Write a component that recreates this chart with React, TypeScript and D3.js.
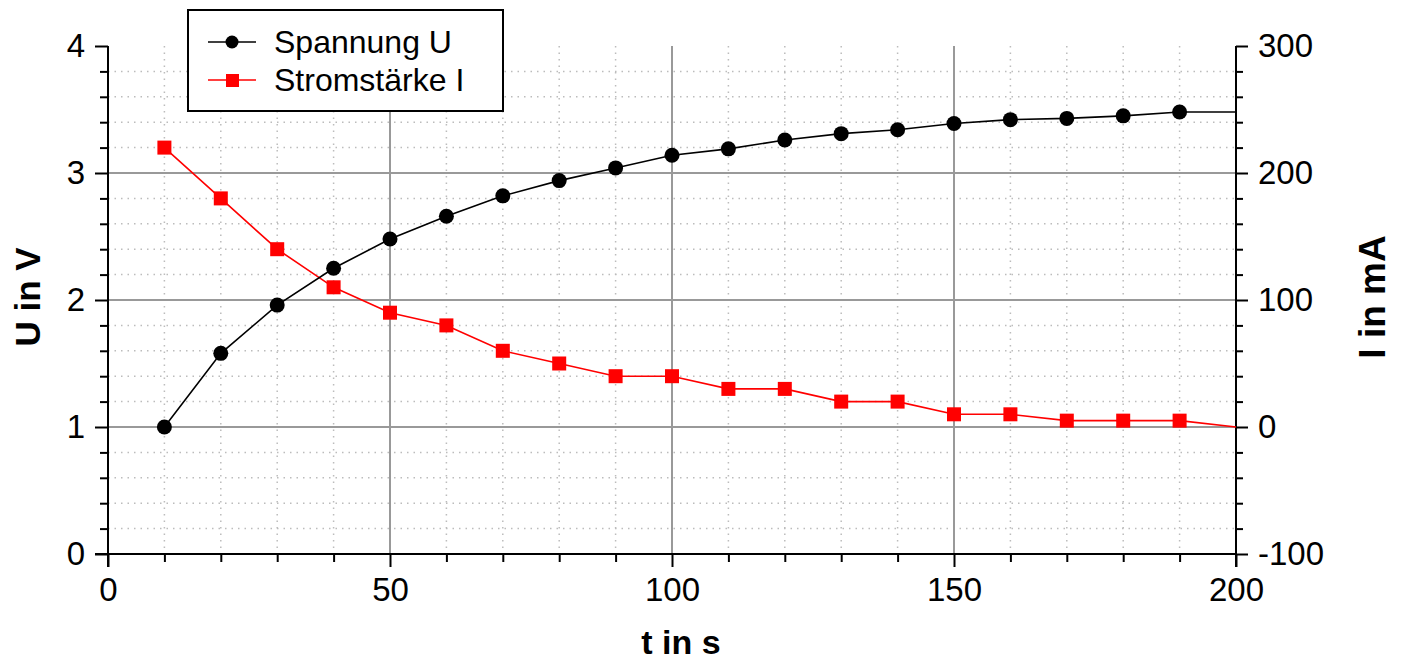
import React, { useRef, useEffect } from "react";
import * as d3 from "d3";

// measurement times in s (last point at 200 is drawn without a marker)
const times = [10, 20, 30, 40, 50, 60, 70, 80, 90, 100, 110, 120, 130, 140, 150, 160, 170, 180, 190, 200];
// Spannung U in V
const voltage = [1.0, 1.58, 1.96, 2.25, 2.48, 2.66, 2.82, 2.94, 3.04, 3.14, 3.19, 3.26, 3.31, 3.34, 3.39, 3.42, 3.43, 3.45, 3.48, 3.48];
// Stromstärke I in mA
const current = [220, 180, 140, 110, 90, 80, 60, 50, 40, 40, 30, 30, 20, 20, 10, 10, 5, 5, 5, 0];

const xMajorTicks = [0, 50, 100, 150, 200];
const uMajorTicks = [0, 1, 2, 3, 4];
const iMajorTicks = [-100, 0, 100, 200, 300];

const FONT = "'Liberation Sans', Arial, sans-serif";

export default function App() {
  const width = 1402;
  const height = 662;
  const margin = { top: 46, right: 166, bottom: 108, left: 108 };
  const axesRef = useRef<SVGGElement>(null);

  const x = d3.scaleLinear().domain([0, 200]).range([margin.left, width - margin.right]);
  const yU = d3.scaleLinear().domain([0, 4]).range([height - margin.bottom, margin.top]);
  const yI = d3.scaleLinear().domain([-100, 300]).range([height - margin.bottom, margin.top]);

  const xMinor = d3.range(0, 201, 10).filter((v) => v % 50 !== 0);
  const uMinor = d3.range(0, 21).map((v) => v / 5).filter((v) => v % 1 !== 0);
  const iMinor = d3.range(-100, 301, 20).filter((v) => v % 100 !== 0);

  const x0 = x(0);
  const x1 = x(200);
  const yBottom = yU(0);
  const yTop = yU(4);

  const points = times.map((t, i) => ({ t, u: voltage[i], c: current[i] }));
  const marked = points.filter((p) => p.t < 200);

  const lineU = d3
    .line<{ t: number; u: number }>()
    .x((d) => x(d.t))
    .y((d) => yU(d.u));
  const lineI = d3
    .line<{ t: number; c: number }>()
    .x((d) => x(d.t))
    .y((d) => yI(d.c));

  useEffect(() => {
    const g = d3.select(axesRef.current);
    g.selectAll("*").remove();

    const plain = (d: any) => String(d); // keeps the ASCII hyphen in "-100"

    const style = (sel: any) => {
      sel.select(".domain").remove();
      sel.selectAll("line").attr("stroke", "#000").attr("stroke-width", 2);
      sel.selectAll("text").attr("fill", "#000").style("font-family", FONT).style("font-size", "33px");
    };

    // left axis
    g.append("g")
      .attr("transform", `translate(${x0},0)`)
      .call(d3.axisLeft(yU).tickValues(uMajorTicks).tickSize(13).tickPadding(10).tickFormat(plain))
      .call(style);
    g.append("g")
      .attr("transform", `translate(${x0},0)`)
      .call(d3.axisLeft(yU).tickValues(uMinor).tickSize(8).tickFormat(() => ""))
      .call(style);

    // right axis
    g.append("g")
      .attr("transform", `translate(${x1},0)`)
      .call(d3.axisRight(yI).tickValues(iMajorTicks).tickSize(12).tickPadding(10).tickFormat(plain))
      .call(style);
    g.append("g")
      .attr("transform", `translate(${x1},0)`)
      .call(d3.axisRight(yI).tickValues(iMinor).tickSize(7).tickFormat(() => ""))
      .call(style);

    // bottom axis
    g.append("g")
      .attr("transform", `translate(0,${yBottom})`)
      .call(d3.axisBottom(x).tickValues(xMajorTicks).tickSize(13).tickPadding(11).tickFormat(plain))
      .call(style);
    g.append("g")
      .attr("transform", `translate(0,${yBottom})`)
      .call(d3.axisBottom(x).tickValues(xMinor).tickSize(8).tickFormat(() => ""))
      .call(style);

    // axis lines
    g.append("line").attr("x1", x0).attr("x2", x0).attr("y1", yTop).attr("y2", yBottom + 13).attr("stroke", "#000").attr("stroke-width", 2);
    g.append("line").attr("x1", x1).attr("x2", x1).attr("y1", yTop).attr("y2", yBottom + 13).attr("stroke", "#000").attr("stroke-width", 2);
    g.append("line").attr("x1", x0 - 13).attr("x2", x1).attr("y1", yBottom).attr("y2", yBottom).attr("stroke", "#000").attr("stroke-width", 2);
  }, []);

  return (
    <svg
      width={width}
      height={height}
      style={{ position: "absolute", left: 0, top: 0, background: "#fff" }}
    >
      {/* minor grid */}
      <g stroke="#bcbcbc" strokeWidth={1.5} strokeDasharray="1.5,5">
        {xMinor.map((v) => (
          <line key={`xm${v}`} x1={x(v)} x2={x(v)} y1={yTop} y2={yBottom} />
        ))}
        {uMinor.map((v) => (
          <line key={`um${v}`} x1={x0} x2={x1} y1={yU(v)} y2={yU(v)} />
        ))}
      </g>
      {/* major grid */}
      <g stroke="#999" strokeWidth={2}>
        {[50, 100, 150].map((v) => (
          <line key={`xM${v}`} x1={x(v)} x2={x(v)} y1={yTop} y2={yBottom} />
        ))}
        {[1, 2, 3].map((v) => (
          <line key={`uM${v}`} x1={x0} x2={x1} y1={yU(v)} y2={yU(v)} />
        ))}
      </g>

      <g ref={axesRef}></g>

      {/* series */}
      <path d={lineI(points) || ""} fill="none" stroke="#ff0000" strokeWidth={1.6} />
      <path d={lineU(points) || ""} fill="none" stroke="#000" strokeWidth={1.6} />
      {marked.map((p) => (
        <rect key={`i${p.t}`} x={x(p.t) - 7} y={yI(p.c) - 7} width={14} height={14} fill="#ff0000" />
      ))}
      {marked.map((p) => (
        <circle key={`u${p.t}`} cx={x(p.t)} cy={yU(p.u)} r={7.5} fill="#000" />
      ))}

      {/* axis titles */}
      <text
        x={(x0 + x1) / 2 + 9}
        y={654}
        textAnchor="middle"
        style={{ fontFamily: FONT, fontSize: "34px", fontWeight: "bold" }}
      >
        t in s
      </text>
      <text
        transform={`translate(40, 297) rotate(-90)`}
        textAnchor="middle"
        style={{ fontFamily: FONT, fontSize: "35px", fontWeight: "bold" }}
      >
        U in V
      </text>
      <text
        transform={`translate(1385, 297) rotate(-90)`}
        textAnchor="middle"
        style={{ fontFamily: FONT, fontSize: "37px", fontWeight: "bold" }}
      >
        I in mA
      </text>

      {/* legend */}
      <g>
        <rect x={188} y={10} width={315} height={101} fill="#fff" stroke="#000" strokeWidth={2} />
        <line x1={208} x2={256} y1={42} y2={42} stroke="#000" strokeWidth={1.6} />
        <circle cx={232} cy={42} r={6.5} fill="#000" />
        <text x={274} y={42} dy="0.35em" style={{ fontFamily: FONT, fontSize: "32px" }}>
          Spannung U
        </text>
        <line x1={208} x2={256} y1={80} y2={80} stroke="#ff0000" strokeWidth={1.6} />
        <rect x={226} y={74} width={13} height={13} fill="#ff0000" />
        <text x={274} y={80} dy="0.35em" style={{ fontFamily: FONT, fontSize: "32px" }}>
          Stromstärke I
        </text>
      </g>
    </svg>
  );
}
